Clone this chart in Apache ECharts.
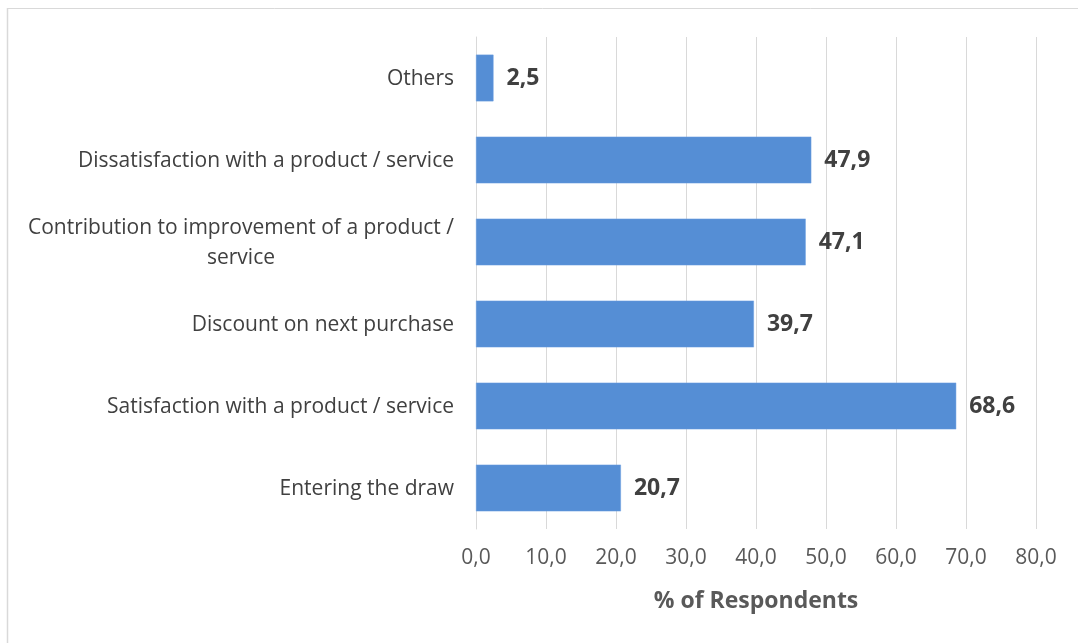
<!DOCTYPE html>
<html>
<head>
<meta charset="utf-8">
<style>
  html, body { margin: 0; padding: 0; background: #ffffff; }
  #chart { width: 1078px; height: 643px; }
</style>
<script src="https://cdn.jsdelivr.net/npm/echarts@6/dist/echarts.min.js"></script>
</head>
<body>
<div id="chart"></div>
<script>
// Reasons for giving feedback, bottom to top as drawn on the category axis
const categories = [
  'Entering the draw',
  'Satisfaction with a product / service',
  'Discount on next purchase',
  'Contribution to improvement of a product /\nservice',
  'Dissatisfaction with a product / service',
  'Others'
];
const respondentShare = [20.7, 68.6, 39.7, 47.1, 47.9, 2.5];
const axisTicks = [0, 10, 20, 30, 40, 50, 60, 70, 80];
const axisTitle = '% of Respondents';

const fmt = v => v.toFixed(1).replace('.', ',');
const FONT = '"Open Sans", "Liberation Sans", sans-serif';

const chart = echarts.init(document.getElementById('chart'));
chart.setOption({
  animation: false,
  backgroundColor: '#ffffff',
  graphic: [
    { type: 'line', shape: { x1: 7, y1: 8.5, x2: 1078, y2: 8.5 }, style: { stroke: '#d9d9d9', lineWidth: 1 } },
    { type: 'line', shape: { x1: 7.5, y1: 8, x2: 7.5, y2: 643 }, style: { stroke: '#d9d9d9', lineWidth: 1.5 } }
  ],
  grid: { left: 476, right: 42, top: 37, bottom: 114, containLabel: false },
  xAxis: {
    type: 'value',
    min: axisTicks[0],
    max: axisTicks[axisTicks.length - 1],
    interval: axisTicks[1] - axisTicks[0],
    axisLine: { show: false },
    axisTick: { show: false },
    splitLine: { show: true, lineStyle: { color: '#d9d9d9', width: 1 } },
    axisLabel: {
      formatter: v => fmt(v),
      color: '#595959',
      fontFamily: FONT,
      fontSize: 21,
      margin: 19
    },
    name: axisTitle,
    nameLocation: 'middle',
    nameGap: 61,
    nameTextStyle: { color: '#595959', fontFamily: FONT, fontSize: 23, fontWeight: 'bold' }
  },
  yAxis: {
    type: 'category',
    data: categories,
    axisLine: { show: true, lineStyle: { color: '#d9d9d9', width: 1 } },
    axisTick: { show: false },
    splitLine: { show: false },
    axisLabel: {
      color: '#404040',
      fontFamily: FONT,
      fontSize: 21,
      margin: 22,
      lineHeight: 30,
      padding: [3, 0, 0, 0],
      formatter: v => v.split('\n').map(s => '{c|' + s + '}').join('\n'),
      rich: { c: { align: 'center', color: '#404040', fontFamily: FONT, fontSize: 21, lineHeight: 30 } }
    }
  },
  series: [{
    type: 'bar',
    data: respondentShare,
    barWidth: '57%',
    itemStyle: { color: '#558ed5', borderColor: '#6b9ee0', borderWidth: 0.5 },
    label: {
      show: true,
      position: 'right',
      distance: 13,
      formatter: p => fmt(p.value),
      color: '#404040',
      fontFamily: FONT,
      fontSize: 23,
      fontWeight: 'bold'
    }
  }]
});
</script>
</body>
</html>
